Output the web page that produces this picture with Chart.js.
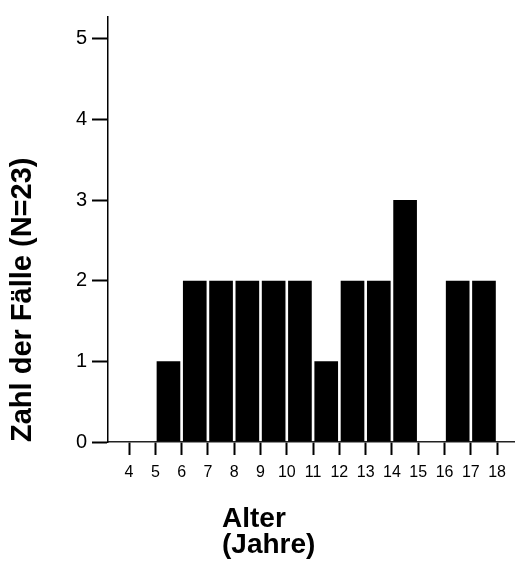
<!DOCTYPE html>
<html>
<head>
<meta charset="utf-8">
<script src="https://cdn.jsdelivr.net/npm/chart.js@4"></script>
<style>
  body { margin: 0; background: #fff; }
  #wrap { width: 515px; height: 569px; }
</style>
</head>
<body>
<div id="wrap"><canvas id="graphic"></canvas></div>
<script>
// ==========================================================================
// DATA
// ==========================================================================
const binStarts = [4, 5, 6, 7, 8, 9, 10, 11, 12, 13, 14, 15, 16, 17];
const counts    = [0, 1, 2, 2, 2, 2, 2, 1, 2, 2, 3, 0, 2, 2];
const xTicks = [4, 5, 6, 7, 8, 9, 10, 11, 12, 13, 14, 15, 16, 17, 18];
const yTicks = [0, 1, 2, 3, 4, 5];
const yTitle = 'Zahl der Fälle (N=23)';
const xTitle = ['Alter', '(Jahre)'];

const FONT = "'Liberation Sans', Arial, sans-serif";

// ==========================================================================
// X TITLE (left aligned, two lines)
// ==========================================================================
const xTitlePlugin = {
  id: 'xTitle',
  afterDraw(chart) {
    const ctx = chart.ctx;
    ctx.save();
    ctx.fillStyle = '#000';
    ctx.font = 'bold 28px ' + FONT;
    ctx.textAlign = 'left';
    ctx.textBaseline = 'alphabetic';
    ctx.fillText(xTitle[0], 222, 527);
    ctx.fillText(xTitle[1], 222, 553);
    ctx.restore();
  }
};

// ==========================================================================
// GRAPHIC
// ==========================================================================
let ctx = document.getElementById('graphic').getContext('2d');
let myChart = new Chart(ctx, {
  type: 'bar',
  data: {
    datasets: [{
      backgroundColor: '#000',
      data: binStarts.map((s, i) => ({ x: s + 0.5, y: counts[i] })),
      barPercentage: 1,
      categoryPercentage: 0.9
    }]
  },
  options: {
    responsive: true,
    maintainAspectRatio: false,
    animation: false,
    layout: { padding: { top: 11, right: 0, bottom: 0, left: 0 } },
    plugins: {
      legend: { display: false },
      tooltip: { enabled: false }
    },
    scales: {
      x: {
        type: 'linear',
        min: 3.2,
        max: 18.68,
        offset: false,
        afterBuildTicks: s => { s.ticks = xTicks.map(v => ({ value: v })); },
        afterFit: s => { s.height = 127; },
        grid: {
          offset: false,
          drawOnChartArea: false,
          drawTicks: true,
          tickLength: 13,
          tickWidth: 2,
          tickColor: '#000'
        },
        border: { display: true, color: '#222', width: 1.5 },
        ticks: {
          color: '#000',
          padding: 8,
          maxRotation: 0,
          autoSkip: false,
          font: { family: FONT, size: 16 }
        }
      },
      y: {
        min: 0,
        max: 5.27,
        afterBuildTicks: s => { s.ticks = yTicks.map(v => ({ value: v })); },
        afterFit: s => { s.width = 108; },
        grid: {
          drawOnChartArea: false,
          drawTicks: true,
          tickLength: 16,
          tickWidth: 2,
          tickColor: '#000'
        },
        border: { display: true, color: '#000', width: 1.5 },
        ticks: {
          color: '#000',
          padding: 5,
          font: { family: FONT, size: 20 }
        },
        title: {
          display: true,
          text: yTitle,
          align: 'start',
          color: '#000',
          padding: { top: 6, bottom: 0 },
          font: { family: FONT, size: 29, weight: 'bold' }
        }
      }
    }
  },
  plugins: [xTitlePlugin]
});
</script>
</body>
</html>
